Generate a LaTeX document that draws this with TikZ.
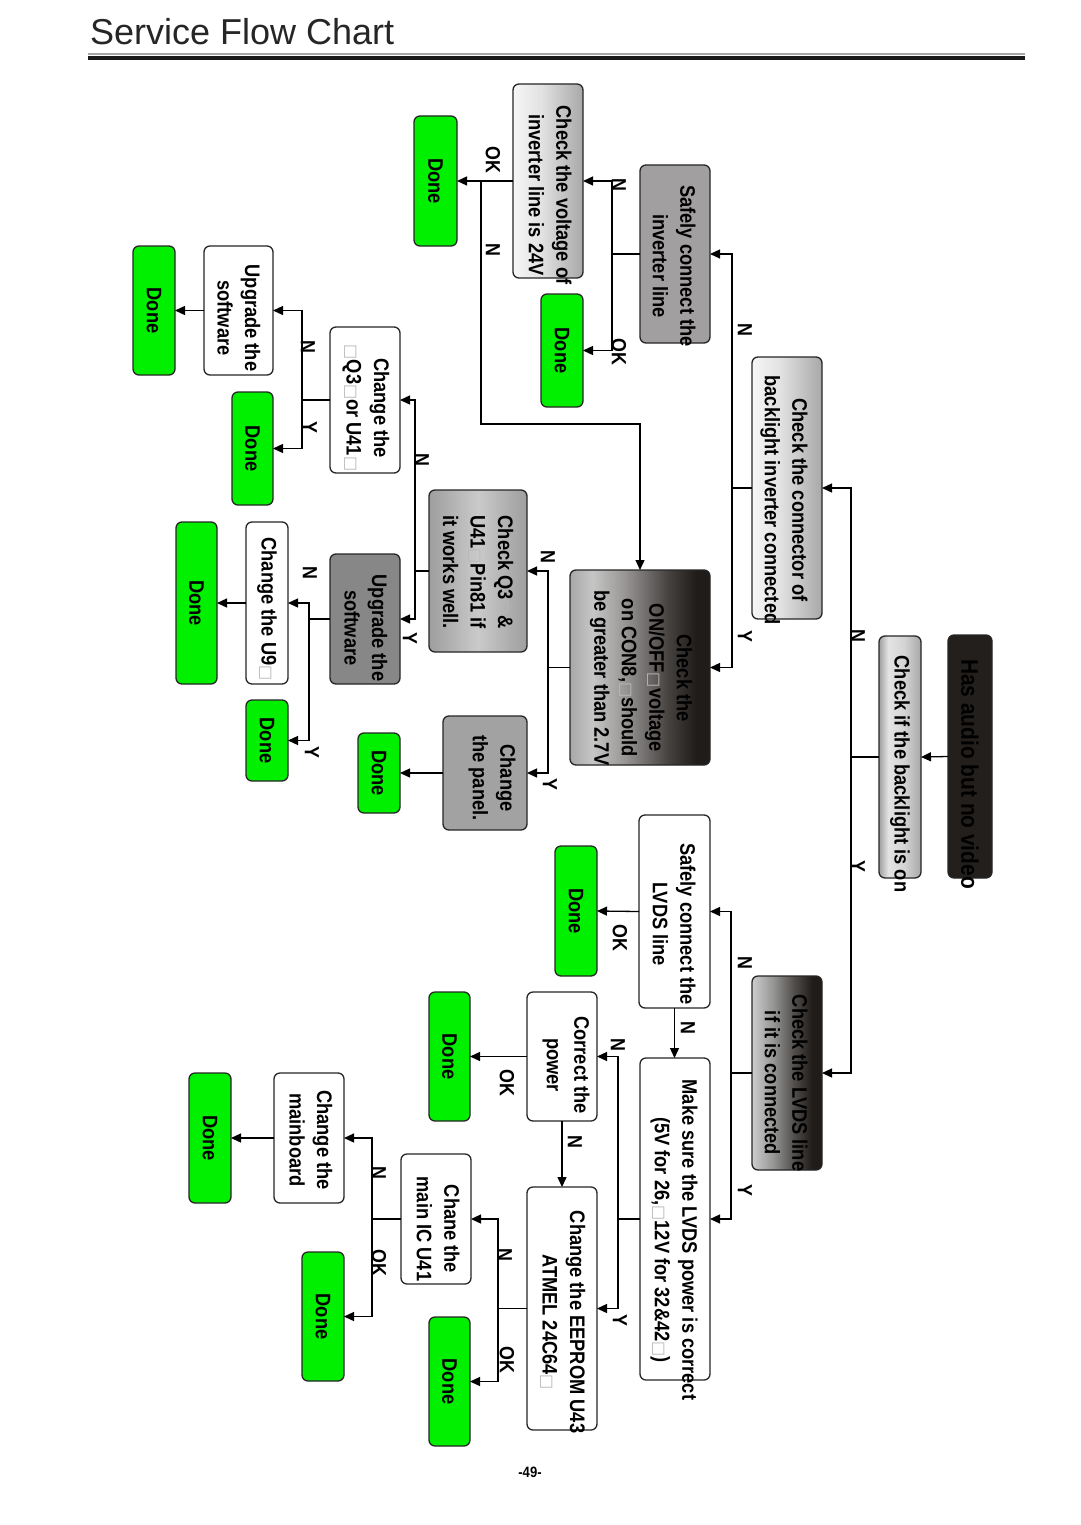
\documentclass[tikz,border=0pt]{standalone}
\usepackage{fontspec}
\usepackage{graphicx}
\usetikzlibrary{arrows.meta}
\setmainfont{Liberation Sans}
\newfontfamily\titlefont{Liberation Sans}
\newfontfamily\boxfont{Liberation Sans}[FakeStretch=0.87]
\newfontfamily\symfont{DejaVu Sans}
\definecolor{dgreen}{RGB}{0,240,0}
\definecolor{nearblack}{RGB}{35,31,28}
\definecolor{midgray}{RGB}{161,159,159}
\definecolor{panelgray}{RGB}{162,162,162}
\definecolor{upgray}{RGB}{135,135,135}
\definecolor{dA1}{RGB}{168,168,168}
\definecolor{dA2}{RGB}{198,198,198}
\definecolor{dA3}{RGB}{150,148,147}
\definecolor{dA4}{RGB}{70,66,64}
\definecolor{dA5}{RGB}{32,28,26}
\definecolor{dB1}{RGB}{205,205,205}
\definecolor{dB2}{RGB}{150,150,150}
\definecolor{dB3}{RGB}{80,77,75}
\definecolor{mt1}{RGB}{160,160,160}
\definecolor{mt2}{RGB}{228,228,228}
\definecolor{mt3}{RGB}{212,212,212}
\definecolor{mt4}{RGB}{168,168,168}
\definecolor{lg1}{RGB}{246,246,246}
\definecolor{lg2}{RGB}{226,226,226}
\definecolor{lg3}{RGB}{168,168,168}
\definecolor{q1}{RGB}{158,158,158}
\definecolor{q2}{RGB}{202,202,202}
\pgfdeclarehorizontalshading{darkA}{100bp}{color(0bp)=(dA1); color(25bp)=(dA1); color(33bp)=(dA2); color(45bp)=(dA3); color(60bp)=(dA4); color(70bp)=(dA5); color(100bp)=(dA5)}
\pgfdeclarehorizontalshading{darkB}{100bp}{color(0bp)=(dB1); color(25bp)=(dB1); color(40bp)=(dB2); color(55bp)=(dB3); color(68bp)=(dA5); color(100bp)=(dA5)}
\pgfdeclarehorizontalshading{metal}{100bp}{color(0bp)=(mt1); color(25bp)=(mt1); color(36bp)=(mt2); color(55bp)=(mt3); color(75bp)=(mt4); color(100bp)=(mt4)}
\pgfdeclarehorizontalshading{lightg}{100bp}{color(0bp)=(lg1); color(25bp)=(lg1); color(45bp)=(lg2); color(75bp)=(lg3); color(100bp)=(lg3)}
\pgfdeclarehorizontalshading{qgrad}{100bp}{color(0bp)=(q1); color(25bp)=(q1); color(50bp)=(q2); color(75bp)=(q1); color(100bp)=(q1)}
\newcommand{\bx}{{\symfont\fontsize{16}{16}\selectfont\textcolor{gray!55}{□}}}
\tikzset{
  bx/.style={draw=black!85, line width=1.3pt, rounded corners=6pt, inner sep=0pt, outer sep=0pt},
  done/.style={bx, fill=dgreen, font=\boxfont\bfseries\fontsize{21}{21}\selectfont},
  wbox/.style={bx, fill=white},
  txt/.style={rotate=-90, align=center, inner sep=0pt, font=\boxfont\bfseries\fontsize{21}{27.5}\selectfont},
  lbl/.style={rotate=-90, inner sep=0pt, font=\boxfont\bfseries\fontsize{20.5}{20.5}\selectfont},
  ln/.style={line width=1.3pt},
  arr/.style={line width=1.3pt, -{Triangle[length=10pt,width=9pt]}}
}
\begin{document}
\begin{tikzpicture}[x=1pt,y=-1pt]
\fill[white] (0,0) rectangle (1080,1525);
\useasboundingbox (0,0) rectangle (1080,1525);
% title
\node[anchor=base west, inner sep=0pt, font=\titlefont\fontsize{36}{36}\selectfont, text=black!85] (title) at (90,45) {Service Flow Chart};
\draw[gray!70, line width=1.2pt] (88,54) -- (1025,54);
\draw[black!90, line width=3.5pt] (88,57.8) -- (1025,57.8);
% boxes
\node[bx, fill=nearblack, minimum width=44pt, minimum height=243pt] (ha) at (970,756.5) {};
\node[bx, shade, shading=metal, minimum width=42pt, minimum height=242pt] (cb) at (900,757) {};
\node[bx, shade, shading=lightg, minimum width=70pt, minimum height=262pt] (cc) at (787,488) {};
\node[bx, shade, shading=darkB, minimum width=70pt, minimum height=194pt] (lv) at (787,1073) {};
\node[bx, fill=midgray, minimum width=70pt, minimum height=178pt] (si) at (675,254) {};
\node[bx, shade, shading=darkA, minimum width=140pt, minimum height=195pt] (oo) at (640,667.5) {};
\node[wbox, minimum width=71pt, minimum height=193pt] (sl) at (674.5,911.5) {};
\node[wbox, minimum width=70pt, minimum height=322pt] (ms) at (675,1219) {};
\node[bx, shade, shading=lightg, minimum width=70pt, minimum height=194pt] (cv) at (548,181) {};
\node[done, minimum width=42pt, minimum height=113pt] (d1) at (562,350.5) {\rotatebox{-90}{Done}};
\node[done, minimum width=43pt, minimum height=130pt] (d2) at (435.5,181) {\rotatebox{-90}{Done}};
\node[bx, shade, shading=qgrad, minimum width=98pt, minimum height=162pt] (cq) at (478,571) {};
\node[bx, fill=panelgray, minimum width=84pt, minimum height=114pt] (cp) at (485,773) {};
\node[done, minimum width=42pt, minimum height=80pt] (d3) at (379,773) {\rotatebox{-90}{Done}};
\node[wbox, minimum width=70pt, minimum height=146pt] (q3) at (365,400) {};
\node[wbox, minimum width=69pt, minimum height=129pt] (ut) at (238.5,310.5) {};
\node[done, minimum width=42pt, minimum height=129pt] (d4) at (154,310.5) {\rotatebox{-90}{Done}};
\node[done, minimum width=41pt, minimum height=113pt] (d5) at (252.5,448.5) {\rotatebox{-90}{Done}};
\node[bx, fill=upgray, minimum width=70pt, minimum height=130pt] (um) at (365,619) {};
\node[wbox, minimum width=42pt, minimum height=162pt] (u9) at (267,603) {};
\node[done, minimum width=41pt, minimum height=162pt] (d6) at (196.5,603) {\rotatebox{-90}{Done}};
\node[done, minimum width=42pt, minimum height=81pt] (d7) at (267,740.5) {\rotatebox{-90}{Done}};
\node[done, minimum width=42pt, minimum height=130pt] (d8) at (576,911) {\rotatebox{-90}{Done}};
\node[wbox, minimum width=70pt, minimum height=129pt] (pw) at (562,1056.5) {};
\node[done, minimum width=41pt, minimum height=129pt] (d9) at (449.5,1056.5) {\rotatebox{-90}{Done}};
\node[wbox, minimum width=70pt, minimum height=243pt] (ee) at (562,1308.5) {};
\node[wbox, minimum width=70pt, minimum height=130pt] (ic) at (436,1219) {};
\node[done, minimum width=41pt, minimum height=129pt] (d10) at (449.5,1381.5) {\rotatebox{-90}{Done}};
\node[wbox, minimum width=70pt, minimum height=130pt] (mb) at (309,1138) {};
\node[done, minimum width=42pt, minimum height=130pt] (d11) at (210,1138) {\rotatebox{-90}{Done}};
\node[done, minimum width=42pt, minimum height=129pt] (d12) at (323,1316.5) {\rotatebox{-90}{Done}};
% texts
\node[txt, font=\boxfont\bfseries\fontsize{24}{28}\selectfont] (tha) at (970,774) {Has audio but no video};
\node[txt] (tcb) at (900,774) {Check if the backlight is on};
\node[txt] (tcc) at (784,500) {Check the connector of\\backlight inverter connected};
\node[txt] (tlv) at (786,1083) {Check the LVDS line\\if it is connected};
\node[txt] (tsi) at (674,266) {Safely connect the\\inverter line};
\node[txt] (too) at (641,678) {Check the\\ON/OFF\bx voltage\\on CON8,\bx should\\be greater than 2.7V};
\node[txt] (tsl) at (674,924) {Safely connect the\\LVDS line};
\node[txt] (tms) at (674,1240) {Make sure the LVDS power is correct\\(5V for 26,\bx 12V for 32\&42\bx)};
\node[txt] (tcv) at (550,195) {Check the voltage of\\inverter line is 24V};
\node[txt] (tcq) at (478,572) {Check Q3\bx\&\\U41\bx Pin81 if\\it works well.};
\node[txt] (tcp) at (492,778) {Change\\the panel.};
\node[txt] (tq3) at (366,408) {Change the\\\bx Q3\bx or U41\bx};
\node[txt] (tut) at (239,318) {Upgrade the\\software};
\node[txt] (tum) at (366,628) {Upgrade the\\software};
\node[txt] (tu9) at (267,609) {Change the U9\bx};
\node[txt] (tpw) at (566,1065) {Correct the\\power};
\node[txt] (tee) at (563,1322) {Change the EEPROM U43\\ATMEL 24C64\bx};
\node[txt] (tic) at (438,1229) {Chane the\\main IC U41};
\node[txt] (tmb) at (311,1140) {Change the\\mainboard};
% junctions
\coordinate (j1) at (851,757);
\coordinate (j2) at (732,488);
\coordinate (j3) at (731,1073);
\coordinate (j4) at (612,254);
\coordinate (j5) at (481,181);
\coordinate (k1) at (481,424);
\coordinate (j6) at (548,667.5);
\coordinate (j7) at (415,571);
\coordinate (j8) at (302,400);
\coordinate (j9) at (309,619);
\coordinate (j10) at (618,1219);
\coordinate (j11) at (498,1308.5);
\coordinate (j12) at (372,1219);
% connectors
\draw[arr] (ha.west) -- (cb.east);
\draw[ln] (cb.west) -- (j1);
\draw[arr] (j1) |- (cc.east);
\draw[arr] (j1) |- (lv.east);
\draw[ln] (cc.west) -- (j2);
\draw[arr] (j2) |- (si.east);
\draw[arr] (j2) |- (oo.east);
\draw[ln] (lv.west) -- (j3);
\draw[arr] (j3) |- (sl.east);
\draw[arr] (j3) |- (ms.east);
\draw[ln] (si.west) -- (j4);
\draw[arr] (j4) |- (cv.east);
\draw[arr] (j4) |- (d1.east);
\draw[arr] (cv.west) -- (d2.east);
\draw[arr] (j5) -- (k1) -| (oo.north);
\draw[ln] (oo.west) -- (j6);
\draw[arr] (j6) |- (cq.east);
\draw[arr] (j6) |- (cp.east);
\draw[arr] (cp.west) -- (d3.east);
\draw[ln] (cq.west) -- (j7);
\draw[arr] (j7) |- (q3.east);
\draw[arr] (j7) |- (um.east);
\draw[ln] (q3.west) -- (j8);
\draw[arr] (j8) |- (ut.east);
\draw[arr] (j8) |- (d5.east);
\draw[arr] (ut.west) -- (d4.east);
\draw[ln] (um.west) -- (j9);
\draw[arr] (j9) |- (u9.east);
\draw[arr] (j9) |- (d7.east);
\draw[arr] (u9.west) -- (d6.east);
\draw[arr] (sl.west) -- (d8.east);
\draw[arr] (sl.south) -- (sl.south |- ms.north);
\draw[ln] (ms.west) -- (j10);
\draw[arr] (j10) |- (pw.east);
\draw[arr] (j10) |- (ee.east);
\draw[arr] (pw.west) -- (d9.east);
\draw[arr] (pw.south) -- (pw.south |- ee.north);
\draw[ln] (ee.west) -- (j11);
\draw[arr] (j11) |- (ic.east);
\draw[arr] (j11) |- (d10.east);
\draw[ln] (ic.west) -- (j12);
\draw[arr] (j12) |- (mb.east);
\draw[arr] (j12) |- (d12.east);
\draw[arr] (mb.west) -- (d11.east);
% labels
\node[lbl] (l1) at (858,636) {N};
\node[lbl] (l2) at (858,866) {Y};
\node[lbl] (l3) at (745,330) {N};
\node[lbl] (l4) at (745,636) {Y};
\node[lbl] (l5) at (745,963) {N};
\node[lbl] (l6) at (745,1190) {Y};
\node[lbl] (l7) at (619,185) {N};
\node[lbl] (l8) at (619,352) {OK};
\node[lbl] (l9) at (493,160) {OK};
\node[lbl] (l10) at (493,250) {N};
\node[lbl] (l11) at (548,557) {N};
\node[lbl] (l12) at (550,784) {Y};
\node[lbl] (l13) at (422,460) {N};
\node[lbl] (l14) at (410,638) {Y};
\node[lbl] (l15) at (308,347) {N};
\node[lbl] (l16) at (310,427) {Y};
\node[lbl] (l17) at (310,573) {N};
\node[lbl] (l18) at (312,752) {Y};
\node[lbl] (l19) at (620,938) {OK};
\node[lbl] (l20) at (688,1028) {N};
\node[lbl] (l21) at (618,1045) {N};
\node[lbl] (l22) at (620,1320) {Y};
\node[lbl] (l23) at (575,1142) {N};
\node[lbl] (l24) at (507,1083) {OK};
\node[lbl] (l25) at (505,1255) {N};
\node[lbl] (l26) at (507,1360) {OK};
\node[lbl] (l27) at (379,1173) {N};
\node[lbl] (l28) at (379,1263) {OK};
\node[font=\boxfont\bfseries\fontsize{15}{15}\selectfont, inner sep=0pt] (pg) at (530,1472) {-49-};
\end{tikzpicture}
\end{document}
